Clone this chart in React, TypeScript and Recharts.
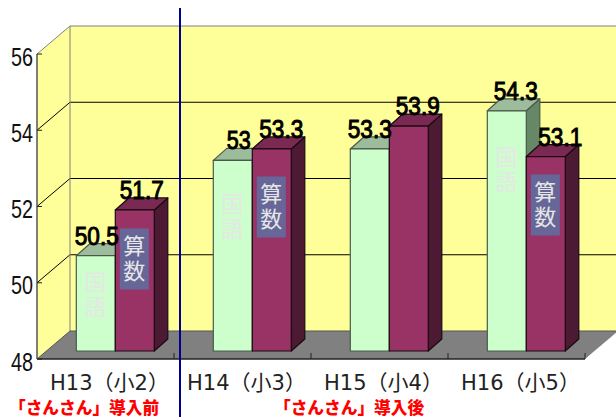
import { BarChart, Bar, XAxis, YAxis, LabelList, Customized } from 'recharts'

const GRADES = ['H13（小2）', 'H14（小3）', 'H15（小4）', 'H16（小5）']
const KOKUGO = [50.5, 53, 53.3, 54.3]
const SANSU = [51.7, 53.3, 53.9, 53.1]
const Y_TICKS = [48, 50, 52, 54, 56]

const data = GRADES.map((name, i) => ({ name, kokugo: KOKUGO[i], sansu: SANSU[i] }))

const WIDTH = 616
const HEIGHT = 417
const PLOT = { left: 37, right: 585, top: 54, bottom: 359 }
const Y_MIN = 48
const Y_MAX = 56

// oblique projection of the back wall and of the bar row
const WALL_DX = 33
const WALL_DY = 28
const BAR_DX = 9.3
const BAR_DY = 8
const BOX_DX = 13.5
const BOX_DY = 12

const CJK = '"Noto Sans CJK JP", sans-serif'
const LATIN = '"Liberation Sans", sans-serif'

const yAt = (v: number) =>
  PLOT.bottom - ((v - Y_MIN) / (Y_MAX - Y_MIN)) * (PLOT.bottom - PLOT.top)

function Backdrop() {
  const { left, right, bottom } = PLOT
  const backLeft = left + WALL_DX
  const backTop = yAt(Y_MAX) - WALL_DY
  const backBottom = bottom - WALL_DY
  const xStep = (right - left) / GRADES.length
  return (
    <g>
      <rect x={backLeft} y={backTop} width={WIDTH - backLeft} height={backBottom - backTop} fill="#ffff99" />
      <polygon
        points={`${left},${yAt(Y_MAX)} ${backLeft},${backTop} ${backLeft},${backBottom} ${left},${bottom}`}
        fill="#ffff99"
      />
      {Y_TICKS.slice(1, -1).map((t) => (
        <g key={t} stroke="#000" strokeWidth={1} fill="none">
          <line x1={left} y1={yAt(t)} x2={backLeft} y2={yAt(t) - WALL_DY} />
          <line x1={backLeft} y1={yAt(t) - WALL_DY} x2={WIDTH} y2={yAt(t) - WALL_DY} />
        </g>
      ))}
      <polygon
        points={`${left},${bottom} ${backLeft},${backBottom} ${right + WALL_DX},${backBottom} ${right},${bottom}`}
        fill="#808080"
      />
      <line x1={backLeft} y1={backTop} x2={WIDTH} y2={backTop} stroke="#808080" />
      <line x1={left} y1={yAt(Y_MAX)} x2={backLeft} y2={backTop} stroke="#808080" />
      <line x1={backLeft} y1={backTop} x2={backLeft} y2={backBottom} stroke="#808080" />
      <line x1={left} y1={yAt(Y_MAX)} x2={left} y2={bottom} stroke="#555" strokeWidth={1.5} />
      <line x1={left} y1={bottom} x2={right} y2={bottom} stroke="#222" strokeWidth={1.5} />
      <line x1={backLeft} y1={backBottom} x2={right + WALL_DX} y2={backBottom} stroke="#555" />
      <line x1={left} y1={bottom} x2={backLeft} y2={backBottom} stroke="#555" />
      {Y_TICKS.map((t) => (
        <line key={t} x1={left} y1={yAt(t)} x2={left + 5} y2={yAt(t)} stroke="#222" />
      ))}
      {GRADES.map((g, i) => (
        <line
          key={g}
          x1={left + xStep * (i + 1)}
          y1={bottom}
          x2={left + xStep * (i + 1)}
          y2={bottom - 6}
          stroke="#222"
        />
      ))}
      <line x1={180} y1={8} x2={180} y2={HEIGHT} stroke="#000090" strokeWidth={2} />
      <text x={9} y={413.5} fill="#ff0000" fontFamily={CJK} fontWeight={900} fontSize={16.7}>
        「さんさん」導入前
      </text>
      <text x={274} y={413.5} fill="#ff0000" fontFamily={CJK} fontWeight={900} fontSize={16.7}>
        「さんさん」導入後
      </text>
    </g>
  )
}

type BoxProps = { x?: number; y?: number; width?: number; height?: number; index?: number }

// subject tags sit at hand-placed heights; the H15 group has none
const KOKUGO_TAG_Y: (number | null)[] = [295, 217, null, 170]
const SANSU_TAG_Y: (number | null)[] = [259, 207, null, 205]

function makeBox(front: string, top: string, side: string, edge: string, tag: string, tagY: (number | null)[], plate: boolean) {
  return function Box({ x = 0, y = 0, width = 0, height = 0, index = 0 }: BoxProps) {
    const l = x + BAR_DX
    const r = l + width
    const t = y - BAR_DY
    const b = t + height
    const cy = tagY[index]
    return (
      <g stroke={edge} strokeWidth={1.2} strokeLinejoin="round">
        <polygon points={`${r},${t} ${r + BOX_DX},${t - BOX_DY} ${r + BOX_DX},${b - BOX_DY} ${r},${b}`} fill={side} />
        <polygon points={`${l},${t} ${l + BOX_DX},${t - BOX_DY} ${r + BOX_DX},${t - BOX_DY} ${r},${t}`} fill={top} />
        <rect x={l} y={t} width={width} height={height} fill={front} />
        {cy !== null && (
          <g stroke="none">
            {plate && <rect x={l + width / 2 - 15} y={cy - 30.5} width={29} height={61} fill="#666699" />}
            <text x={l + width / 2 - 0.5} y={cy - 5} textAnchor="middle" fontFamily={CJK} fontSize={22} fill="#e6e6e6">
              {tag[0]}
            </text>
            <text x={l + width / 2 - 0.5} y={cy + 20} textAnchor="middle" fontFamily={CJK} fontSize={22} fill="#e6e6e6">
              {tag[1]}
            </text>
          </g>
        )}
      </g>
    )
  }
}

const KokugoBox = makeBox('#ccffcc', '#9cbc9c', '#668866', '#4a5a4a', '国語', KOKUGO_TAG_Y, false)
const SansuBox = makeBox('#993366', '#7a2952', '#4d1a33', '#1a0a12', '算数', SANSU_TAG_Y, true)

// value labels are nudged sideways so they clear the neighbouring bar
const KOKUGO_LABEL_DX = [1, 6, 0, 9]
const SANSU_LABEL_DX = [7, 9.5, 9, 14.5]

function makeValueLabel(shift: number[]) {
  return function ValueLabel({ x = 0, y = 0, width = 0, value, index = 0 }: any) {
    return (
      <text
        x={Number(x) + Number(width) / 2 + BAR_DX + shift[index]}
        y={Number(y) - BAR_DY - 11}
        textAnchor="middle"
        textLength={String(value).length > 2 ? 44 : 24}
        lengthAdjust="spacingAndGlyphs"
        fontFamily={LATIN}
        fontSize={25}
        fill="#000"
        stroke="#000"
        strokeWidth={1}
      >
        {value}
      </text>
    )
  }
}

const GradeTick = ({ x, y, payload }: any) => (
  <text
    x={Number(x) + 4}
    y={Number(y) + 23}
    textAnchor="middle"
    textLength={119}
    lengthAdjust="spacingAndGlyphs"
    fontFamily={`"DejaVu Sans", ${CJK}`}
    fontSize={21}
    fill="#222"
  >
    {payload.value}
  </text>
)

const ValueTick = ({ y, payload }: any) => (
  <text
    x={33}
    y={Number(y) + 11.5}
    textAnchor="end"
    textLength={22}
    lengthAdjust="spacingAndGlyphs"
    fontFamily={LATIN}
    fontSize={25}
    fill="#111"
  >
    {payload.value}
  </text>
)

export default function App() {
  return (
    <div style={{ position: 'absolute', left: 0, top: 0, width: WIDTH, height: HEIGHT, overflow: 'hidden', background: '#fff' }}>
      <BarChart
        width={WIDTH}
        height={HEIGHT}
        data={data}
        barSize={39}
        barGap={0}
        margin={{ top: PLOT.top, right: WIDTH - PLOT.right, left: 0, bottom: 0 }}
      >
        <Customized component={Backdrop} />
        <XAxis dataKey="name" height={HEIGHT - PLOT.bottom} axisLine={false} tickLine={false} tick={<GradeTick />} interval={0} />
        <YAxis width={PLOT.left} domain={[Y_MIN, Y_MAX]} ticks={Y_TICKS} axisLine={false} tickLine={false} tick={<ValueTick />} allowDataOverflow />
        <Bar dataKey="kokugo" isAnimationActive={false} shape={(p: any) => <KokugoBox {...p} />}>
          <LabelList dataKey="kokugo" content={makeValueLabel(KOKUGO_LABEL_DX)} />
        </Bar>
        <Bar dataKey="sansu" isAnimationActive={false} shape={(p: any) => <SansuBox {...p} />}>
          <LabelList dataKey="sansu" content={makeValueLabel(SANSU_LABEL_DX)} />
        </Bar>
      </BarChart>
    </div>
  )
}
